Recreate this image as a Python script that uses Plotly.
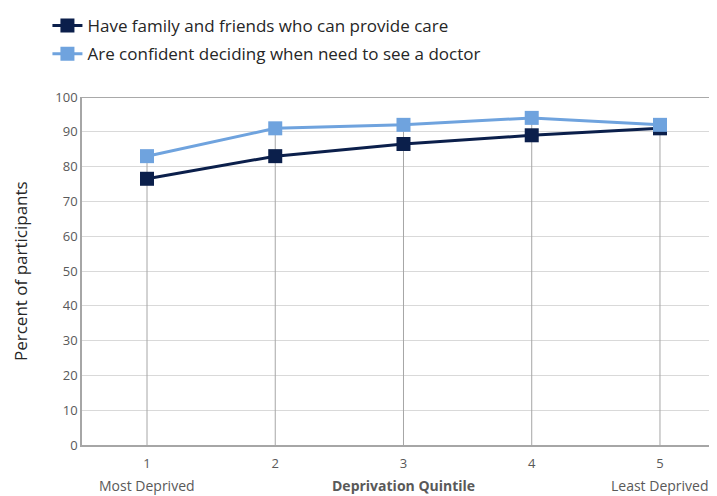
import plotly.graph_objects as go

quintiles = [1, 2, 3, 4, 5]
tick_labels = ["1", "2", "3", "4", "5"]
family_care = [76.5, 83, 86.5, 89, 91]
confident_doctor = [83, 91, 92, 94, 92]
series_names = ["Have family and friends who can provide care",
                "Are confident deciding when need to see a doctor"]
y_ticks = [0, 10, 20, 30, 40, 50, 60, 70, 80, 90, 100]

FONT = "Open Sans"
dark = "#0b1f4b"
light = "#6fa3de"

fig = go.Figure()

# drop lines from highest point to axis
dx, dy = [], []
for q, a, b in zip(quintiles, family_care, confident_doctor):
    dx += [q, q, None]
    dy += [0, max(a, b), None]
fig.add_trace(go.Scatter(x=dx, y=dy, mode="lines", line=dict(color="#a6a6a6", width=1),
                         showlegend=False, hoverinfo="skip"))

fig.add_trace(go.Scatter(x=quintiles, y=family_care, name=series_names[0],
                         mode="lines+markers", legendgroup="a",
                         line=dict(color=dark, width=3),
                         marker=dict(symbol="square", size=14, color=dark)))
fig.add_trace(go.Scatter(x=quintiles, y=confident_doctor, name=series_names[1],
                         mode="lines+markers", legendgroup="b",
                         line=dict(color=light, width=3),
                         marker=dict(symbol="square", size=14, color=light)))

plot_w = 717 - 74

fig.update_layout(
    width=717, height=496,
    margin=dict(l=74, r=0, t=89, b=59, autoexpand=False),
    plot_bgcolor="white", paper_bgcolor="white",
    font=dict(family=FONT, color="#595959", size=13),
    showlegend=True,
    legend=dict(x=0.055, y=1.02, xref="container", yref="container",
                xanchor="left", yanchor="top",
                font=dict(size=17, color="#262626", family=FONT),
                tracegroupgap=3, itemwidth=30, bgcolor="rgba(0,0,0,0)"),
    xaxis=dict(range=[0.4932, 5.507], tickvals=quintiles, ticktext=tick_labels,
               showgrid=False, zeroline=False, showline=True, linecolor="#a6a6a6",
               linewidth=1.5, mirror=False, ticks="", ticklen=0, ticklabelstandoff=6,
               tickfont=dict(size=13, color="#595959")),
    yaxis=dict(range=[0, 100], tickvals=y_ticks, showgrid=True, gridcolor="#d9d9d9",
               gridwidth=1, zeroline=False, showline=True, linecolor="#a6a6a6",
               linewidth=1.5, ticks="", tickfont=dict(size=13, color="#595959")),
    annotations=[
        dict(text="Percent of participants", x=(12 - 74) / plot_w, y=0.5,
             xref="paper", yref="paper", xanchor="center", yanchor="middle",
             showarrow=False, textangle=-90, font=dict(size=17, color="#262626")),
        dict(text="Most Deprived", x=1, y=0, xref="x", yref="paper", yshift=-40,
             yanchor="middle", showarrow=False, font=dict(size=14, color="#595959")),
        dict(text="<b>Deprivation Quintile</b>", x=3, y=0, xref="x", yref="paper", yshift=-40,
             yanchor="middle", showarrow=False, font=dict(size=14, color="#595959")),
        dict(text="Least Deprived", x=5, y=0, xref="x", yref="paper", yshift=-40,
             yanchor="middle", showarrow=False, xanchor="center",
             font=dict(size=14, color="#595959")),
    ],
    shapes=[dict(type="line", xref="paper", yref="y", x0=0, x1=1, y0=100, y1=100,
                 line=dict(color="#8c8c8c", width=1.5))],
)

fig.write_html("out.html")
